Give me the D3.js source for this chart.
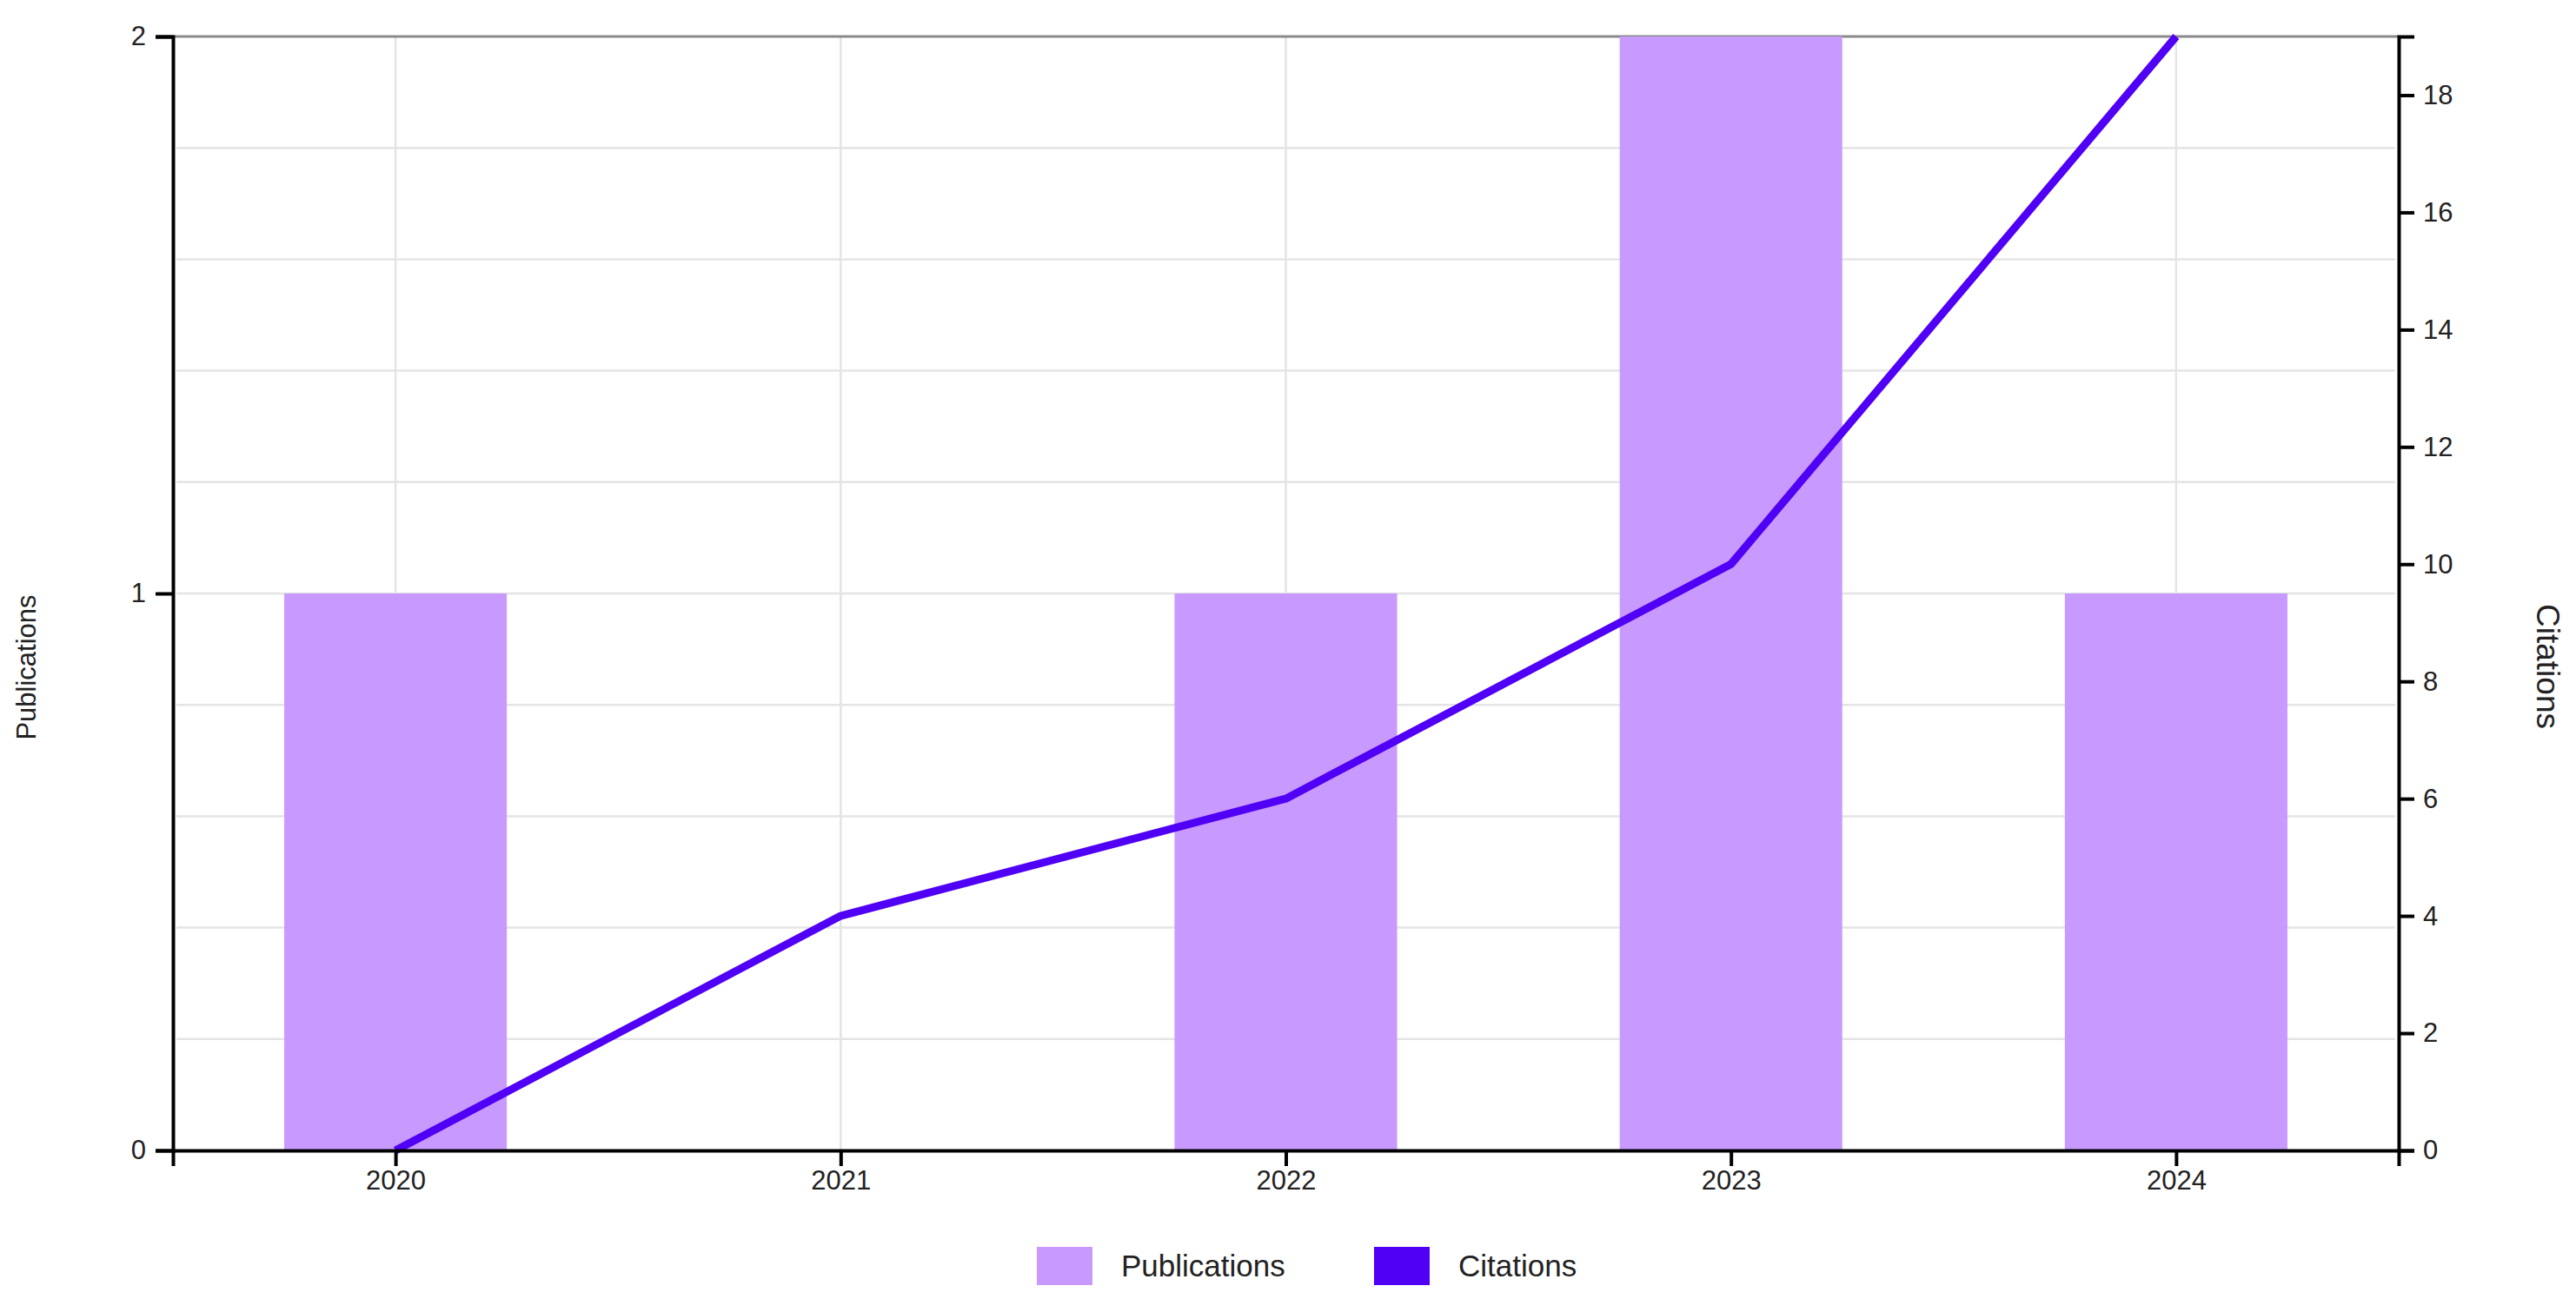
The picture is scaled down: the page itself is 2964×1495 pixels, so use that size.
<!DOCTYPE html>
<html>
<head>
<meta charset="utf-8">
<script src="https://cdn.jsdelivr.net/npm/d3@7"></script>
<style>
  html, body { margin: 0; padding: 0; background: #fff; }
  svg { display: block; font-family: "Liberation Sans", Arial, sans-serif; }
</style>
</head>
<body>
<svg id="chart" width="2964" height="1495"></svg>
<script>
// ---- data ----
const years = ["2020", "2021", "2022", "2023", "2024"];
const publications = [1, 0, 1, 2, 1];
const citations = [0, 4, 6, 10, 19];
const leftTicks = [0, 1, 2];
const rightTicks = [0, 2, 4, 6, 8, 10, 12, 14, 16, 18];
const gridValues = [0.2, 0.4, 0.6, 0.8, 1.0, 1.2, 1.4, 1.6, 1.8];
const seriesNames = ["Publications", "Citations"];
const seriesColors = ["#c89aff", "#5000f5"];

(function () {
// ---- layout ----
const plotLeft = 199, plotRight = 2760, plotTop = 42, plotBottom = 1324;

const svg = d3.select("#chart");

const x = d3.scalePoint().domain(years).range([plotLeft, plotRight]).padding(0.5);
const yL = d3.scaleLinear().domain([0, 2]).range([plotBottom, plotTop]);
const yR = d3.scaleLinear().domain([0, 19]).range([plotBottom, plotTop]);
const barW = x.step() * 0.5;

// gridlines
const grid = svg.append("g");
grid.selectAll("line.h").data(gridValues).join("line")
  .attr("x1", plotLeft + 4).attr("x2", plotRight - 4)
  .attr("y1", d => yL(d)).attr("y2", d => yL(d))
  .attr("stroke", "#e4e4e4").attr("stroke-width", 2.5);
grid.selectAll("line.v").data(years).join("line")
  .attr("x1", d => x(d)).attr("x2", d => x(d))
  .attr("y1", plotTop).attr("y2", plotBottom)
  .attr("stroke", "#e4e4e4").attr("stroke-width", 2.5);
// top border
svg.append("line")
  .attr("x1", plotLeft).attr("x2", plotRight).attr("y1", plotTop).attr("y2", plotTop)
  .attr("stroke", "#8a8a8a").attr("stroke-width", 3);

// bars
svg.append("g").selectAll("rect").data(years).join("rect")
  .attr("x", (d) => x(d) - barW / 2)
  .attr("width", barW)
  .attr("y", (d, i) => yL(publications[i]))
  .attr("height", (d, i) => plotBottom - yL(publications[i]))
  .attr("fill", seriesColors[0]);

// line
const line = d3.line().x((d, i) => x(years[i])).y(d => yR(d));
svg.append("path").datum(citations)
  .attr("d", line)
  .attr("fill", "none")
  .attr("stroke", seriesColors[1])
  .attr("stroke-width", 9)
  .attr("stroke-linejoin", "round");

// axes
function styleAxis(g, fs) {
  g.selectAll("path.domain").attr("stroke", "#000").attr("stroke-width", 4);
  g.selectAll(".tick line").attr("stroke", "#000").attr("stroke-width", 4);
  g.selectAll(".tick text").attr("fill", "#222").style("font-size", fs + "px")
    .style("font-family", '"Liberation Sans", Arial, sans-serif');
}

const gx = svg.append("g").attr("transform", `translate(0,${plotBottom})`)
  .call(d3.axisBottom(x).tickSize(18).tickSizeOuter(18).tickPadding(5));
styleAxis(gx, 31);

const gl = svg.append("g").attr("transform", `translate(${plotLeft},0)`)
  .call(d3.axisLeft(yL).tickValues(leftTicks).tickFormat(d3.format("d")).tickSize(20).tickSizeOuter(20).tickPadding(11));
styleAxis(gl, 31);

const gr = svg.append("g").attr("transform", `translate(${plotRight},0)`)
  .call(d3.axisRight(yR).tickValues(rightTicks).tickFormat(d3.format("d")).tickSize(18).tickSizeOuter(18).tickPadding(10));
styleAxis(gr, 31);

// axis titles
svg.append("text")
  .attr("transform", `translate(30,768) rotate(-90)`)
  .attr("text-anchor", "middle").attr("dominant-baseline", "central")
  .attr("fill", "#222").style("font-size", "31px")
  .text(seriesNames[0]);
svg.append("text")
  .attr("transform", `translate(2931,767) rotate(90)`)
  .attr("text-anchor", "middle").attr("dominant-baseline", "central")
  .attr("fill", "#222").style("font-size", "37px")
  .text(seriesNames[1]);

// legend
const legendX = [1193, 1581];
const lg = svg.append("g").selectAll("g").data(seriesNames).join("g")
  .attr("transform", (d, i) => `translate(${legendX[i]},1435)`);
lg.append("rect").attr("width", 64).attr("height", 44)
  .attr("fill", (d, i) => seriesColors[i]);
lg.append("text").attr("x", 97).attr("y", 34)
  .attr("fill", "#222").style("font-size", "35px")
  .text(d => d);
})();
</script>
</body>
</html>
